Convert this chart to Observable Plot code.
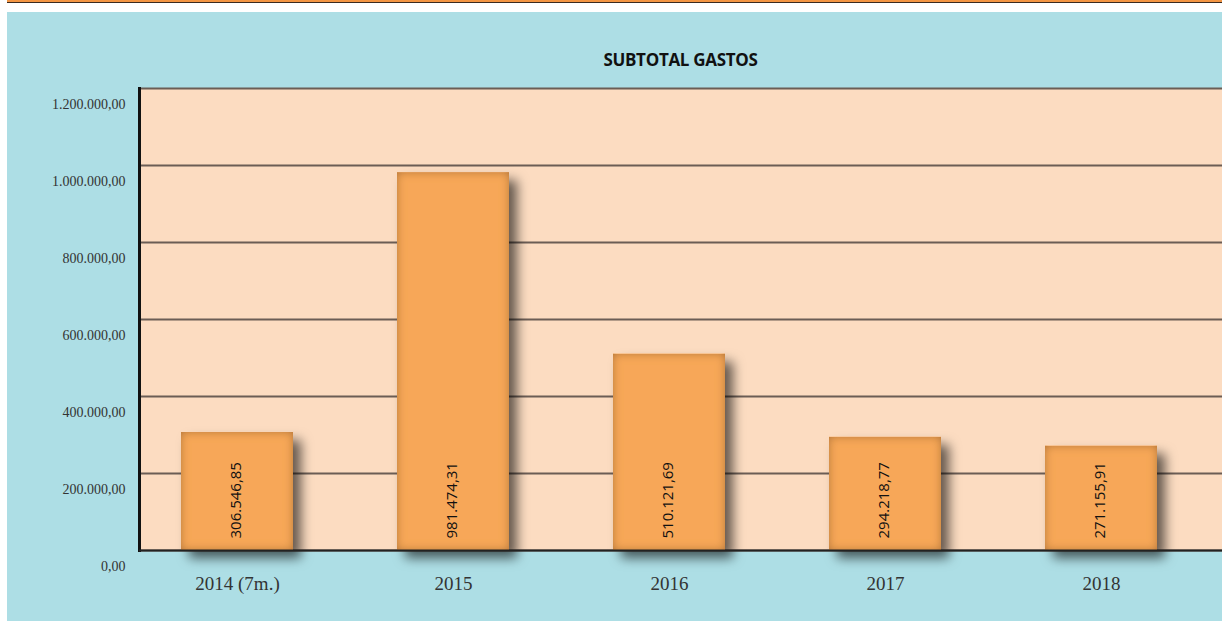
<!DOCTYPE html>
<html>
<head>
<meta charset="utf-8">
<script src="https://cdn.jsdelivr.net/npm/d3@7"></script>
<script src="https://cdn.jsdelivr.net/npm/@observablehq/plot@0.6"></script>
<style>
  html, body { margin: 0; padding: 0; background: #ffffff; width: 1222px; height: 621px; overflow: hidden; }
  #strip { position: absolute; left: 7px; top: 0; width: 1215px; height: 2px; background: #F39543; border-bottom: 1px solid #3a2a20; }
  #bg { position: absolute; left: 7px; top: 12px; right: 0; bottom: 0; background: #ADDEE5; }
  #title { position: absolute; left: 139px; right: 0; top: 48px; text-align: center; font-family: "Open Sans", sans-serif; font-weight: 700; font-size: 17px; letter-spacing: -0.3px; color: #111; }
  #chart { position: absolute; left: 0; top: 0; }
</style>
</head>
<body>
<div id="strip"></div>
<div id="bg"></div>
<div id="title">SUBTOTAL GASTOS</div>
<div id="chart"></div>
<script>
const categories = ["2014 (7m.)", "2015", "2016", "2017", "2018"];
const values = [306546.85, 981474.31, 510121.69, 294218.77, 271155.91];
const yTicks = [0, 200000, 400000, 600000, 800000, 1000000, 1200000];

const data = categories.map((c, i) => ({category: c, value: values[i]}));

const fmt = v => {
  const [int, dec] = v.toFixed(2).split(".");
  return int.replace(/\B(?=(\d{3})+(?!\d))/g, ".") + "," + dec;
};

const W = 1222, H = 621;
const plot = Plot.plot({
  width: W,
  height: H,
  marginLeft: 139,
  marginRight: 0,
  marginTop: 88,
  marginBottom: 71,
  style: {background: "transparent", overflow: "visible"},
  x: {domain: categories, range: [127, 1211], paddingInner: 0.483, paddingOuter: 0.2415, label: null},
  y: {domain: [0, 1200000], label: null},
  marks: [
    Plot.frame({fill: "#FCDCC1", stroke: null}),
    Plot.gridY(yTicks, {stroke: "#6b5d55", strokeWidth: 2, strokeOpacity: 1}),
    Plot.barY(data, {x: "category", y: "value", fill: "#F7A758", className: "bars"}),
    Plot.frame({anchor: "left", stroke: "#111", strokeWidth: 3}),
    Plot.ruleY([0], {stroke: "#222", strokeWidth: 2}),
    Plot.text(data, {x: "category", y: 0, text: d => fmt(d.value), rotate: -90, textAnchor: "start", dy: -12, dx: -1, fontSize: 15, fill: "#111", fontFamily: "'Open Sans', sans-serif"}),
    Plot.axisY(yTicks, {tickSize: 0, tickPadding: 14, tickFormat: fmt, fontSize: 14, fill: "#333", fontFamily: "'Liberation Serif', serif", dy: 16, label: null}),
    Plot.axisX(categories, {tickSize: 0, tickPadding: 26, fontSize: 19, fill: "#333", fontFamily: "'Liberation Serif', serif", label: null})
  ]
});

// bar shading filter
const svg = d3.select(plot);
const defs = svg.insert("defs", ":first-child");
const f = defs.append("filter").attr("id", "barfx")
  .attr("x", "-20%").attr("y", "-20%").attr("width", "160%").attr("height", "150%");
f.append("feGaussianBlur").attr("in", "SourceAlpha").attr("stdDeviation", 5).attr("result", "ib");
f.append("feComposite").attr("in", "SourceAlpha").attr("in2", "ib").attr("operator", "arithmetic")
  .attr("k2", 1).attr("k3", -1).attr("result", "ring");
f.append("feFlood").attr("flood-color", "#7a4a18").attr("flood-opacity", 0.7).attr("result", "ic");
f.append("feComposite").attr("in", "ic").attr("in2", "ring").attr("operator", "in").attr("result", "inner");
f.append("feOffset").attr("in", "SourceAlpha").attr("dx", 8).attr("dy", 8).attr("result", "off");
f.append("feGaussianBlur").attr("in", "off").attr("stdDeviation", 6).attr("result", "ob");
f.append("feFlood").attr("flood-color", "#000").attr("flood-opacity", 0.6).attr("result", "oc");
f.append("feComposite").attr("in", "oc").attr("in2", "ob").attr("operator", "in").attr("result", "drop");
const m = f.append("feMerge");
m.append("feMergeNode").attr("in", "drop");
m.append("feMergeNode").attr("in", "SourceGraphic");
m.append("feMergeNode").attr("in", "inner");
svg.selectAll("g.bars rect, .bars rect").attr("filter", "url(#barfx)");

document.getElementById("chart").appendChild(plot);
</script>
</body>
</html>
